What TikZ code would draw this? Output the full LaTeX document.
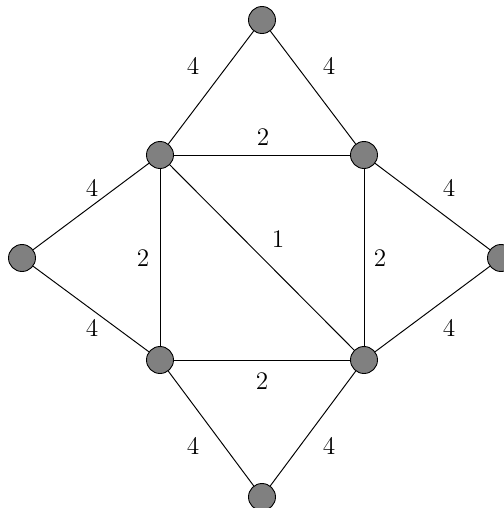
\documentclass[tikz,border=0pt]{standalone}
\usepackage{tikz}
\usetikzlibrary{positioning}
\tikzset{
  vtx/.style={circle,draw=black,fill=black!50,minimum size=0.54cm,inner sep=0pt,line width=0.5pt},
  edg/.style={line width=0.55pt,black},
  wlbl/.style={font=\Large,inner sep=1pt},
}

\begin{document}
\begin{tikzpicture}[x=0.02cm,y=-0.02cm]
  \useasboundingbox (0,0) rectangle (504,508);
  % vertices
  \node[vtx] (t)  at (262,20)  {};
  \node[vtx] (ul) at (160,155) {};
  \node[vtx] (ur) at (364,155) {};
  \node[vtx] (l)  at (22,258)  {};
  \node[vtx] (r)  at (501,258) {};
  \node[vtx] (ll) at (160,360) {};
  \node[vtx] (lr) at (364,360) {};
  \node[vtx] (b)  at (262,497) {};
  % edges
  \begin{scope}[on background layer/.try]
  \foreach \a/\b in {t/ul,t/ur,ul/ur,ul/l,l/ll,ul/ll,ul/lr,ur/lr,ur/r,lr/r,ll/lr,ll/b,lr/b}
    \draw[edg] (\a) -- (\b);
  \end{scope}
  % weights
  \node[wlbl] (w1)  at (193,66)  {4};
  \node[wlbl] (w2)  at (329,66)  {4};
  \node[wlbl] (w3)  at (263,137) {2};
  \node[wlbl] (w4)  at (92,188)  {4};
  \node[wlbl] (w5)  at (92,328)  {4};
  \node[wlbl] (w6)  at (143,258) {2};
  \node[wlbl] (w7)  at (278,239) {1};
  \node[wlbl] (w8)  at (380,258) {2};
  \node[wlbl] (w9)  at (449,188) {4};
  \node[wlbl] (w10) at (449,328) {4};
  \node[wlbl] (w11) at (262,381) {2};
  \node[wlbl] (w12) at (193,446) {4};
  \node[wlbl] (w13) at (329,446) {4};
\end{tikzpicture}
\end{document}
